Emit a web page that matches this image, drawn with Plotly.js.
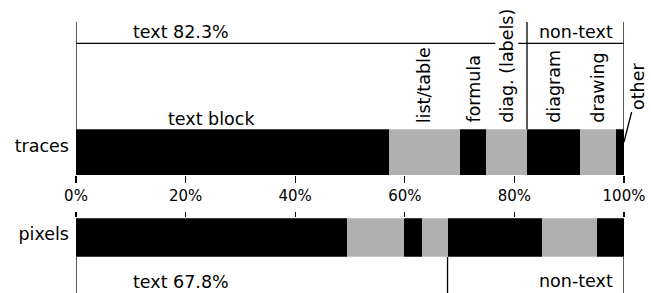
<!DOCTYPE html>
<html>
<head>
<meta charset="utf-8">
<script src="https://cdn.plot.ly/plotly-3.0.1.min.js"></script>
<style>html,body{margin:0;padding:0;background:#fff;}#chart{width:651px;height:293px;}</style>
</head>
<body>
<div id="chart"></div>
<script>
// ---- data ----
const categories = ['traces', 'pixels'];
const segments = ['text block', 'list/table', 'formula', 'diag. (labels)', 'diagram', 'drawing', 'other'];
const tracesShare = [57.1, 12.9, 4.9, 7.4, 9.6, 6.6, 1.5];
const pixelsShare = [49.5, 10.3, 3.4, 4.6, 17.2, 10.1, 4.9];
const segColors = ['#000000', '#b0b0b0', '#000000', '#b0b0b0', '#000000', '#b0b0b0', '#000000'];
const xTicks = [0, 20, 40, 60, 80, 100];
const textSegCount = 4; // first 4 segments are "text"

const W = 651, H = 293;
const py = p => 1 - p / H;           // pixel row -> paper y
const FONT = 'DejaVu Sans';

function cum(arr) { const out = []; let s = 0; arr.forEach(v => { s += v; out.push(s); }); return out; }
const tracesCum = cum(tracesShare);
const pixelsCum = cum(pixelsShare);
const tracesText = tracesCum[textSegCount - 1];
const pixelsText = pixelsCum[textSegCount - 1];

const data = [];
segments.forEach((name, i) => {
  data.push({type: 'bar', orientation: 'h', name: name, y: [categories[0]], x: [tracesShare[i]],
    xaxis: 'x', yaxis: 'y', marker: {color: segColors[i], line: {width: 0}}, width: 1, hoverinfo: 'skip'});
  data.push({type: 'bar', orientation: 'h', name: name, y: [categories[1]], x: [pixelsShare[i]],
    xaxis: 'x2', yaxis: 'y2', marker: {color: segColors[i], line: {width: 0}}, width: 1, hoverinfo: 'skip'});
});

const LW = 1.3;
const vline = (x, y0, y1) => ({type: 'line', xref: 'x', yref: 'paper', x0: x, x1: x, y0: py(y0), y1: py(y1), line: {color: 'black', width: LW}});
const shapes = [
  vline(0, 129, 22), vline(tracesText, 129, 22), vline(100, 129, 22),
  {type: 'line', xref: 'x', yref: 'paper', x0: 0, x1: 100, y0: py(43.3), y1: py(43.3), line: {color: 'black', width: LW}},
  vline(0, 257, 310), vline(pixelsText, 257, 310), vline(100, 257, 310)
];

const lab = (text, x, xref, ypix, extra) => Object.assign({text: text, x: x, xref: xref, y: py(ypix), yref: 'paper',
  xanchor: 'center', yanchor: 'middle',
  showarrow: false, font: {family: FONT, size: 17.5, color: 'black'}}, extra || {});

const annotations = [
  lab('text ' + tracesText.toFixed(1) + '%', (181 - 76) / 548, 'paper', 32),
  lab('non-text', (tracesText + 100) / 2, 'x', 32),
  lab('text block', (211.7 - 76) / 548, 'paper', 119),
  lab('text ' + pixelsText.toFixed(1) + '%', (181 - 76) / 548, 'paper', 282),
  lab('non-text', (575.5 - 76) / 548, 'paper', 281)
];
// rotated labels over the segments 2..6 of the traces bar
for (let i = 1; i <= 5; i++) {
  const c = tracesCum[i] - tracesShare[i] / 2;
  annotations.push(lab(segments[i], c, 'x', 125, {textangle: -90, yanchor: 'bottom', bgcolor: 'white', borderpad: 1}));
}
// "other" with leader line
annotations.push({text: segments[6], x: 100, xref: 'x', y: py(142), yref: 'paper', showarrow: true, arrowhead: 0,
  arrowwidth: LW, arrowcolor: 'black', standoff: 0, ax: 14, ay: -55, textangle: -90,
  xanchor: 'center', yanchor: 'middle',
  font: {family: FONT, size: 17.5, color: 'black'}});

const layout = {
  width: W, height: H,
  margin: {l: 76, r: 27, t: 0, b: 0, pad: 0},
  paper_bgcolor: 'white', plot_bgcolor: 'white',
  barmode: 'stack', bargap: 0, showlegend: false,
  font: {family: FONT, size: 15, color: 'black'},
  xaxis: {anchor: 'y', range: [0, 100], tickvals: xTicks, ticktext: xTicks.map(v => v + '%'),
    ticks: 'outside', ticklen: 7, tickwidth: 1.2, tickcolor: 'black', showgrid: false, zeroline: false,
    showline: false, tickfont: {family: FONT, size: 15, color: 'black'}, fixedrange: true},
  xaxis2: {anchor: 'y2', matches: 'x', range: [0, 100], side: 'top', tickvals: xTicks,
    ticks: 'outside', ticklen: 5, tickwidth: 1.2, tickcolor: 'black', showgrid: false, zeroline: false,
    showline: false, showticklabels: false, fixedrange: true},
  yaxis: {domain: [py(175), py(129.3)], type: 'category', range: [-0.5, 0.5], ticks: '', showgrid: false,
    zeroline: false, showline: false, tickfont: {family: FONT, size: 17.5, color: 'black'},
    ticklabelstandoff: 6, ticklabelshift: -6, fixedrange: true},
  yaxis2: {domain: [py(256.7), py(218.3)], type: 'category', range: [-0.5, 0.5], ticks: '', showgrid: false,
    zeroline: false, showline: false, tickfont: {family: FONT, size: 17.5, color: 'black'},
    ticklabelstandoff: 6, ticklabelshift: -4, fixedrange: true},
  shapes: shapes,
  annotations: annotations
};

Plotly.newPlot('chart', data, layout, {displayModeBar: false, staticPlot: true});
</script>
</body>
</html>
